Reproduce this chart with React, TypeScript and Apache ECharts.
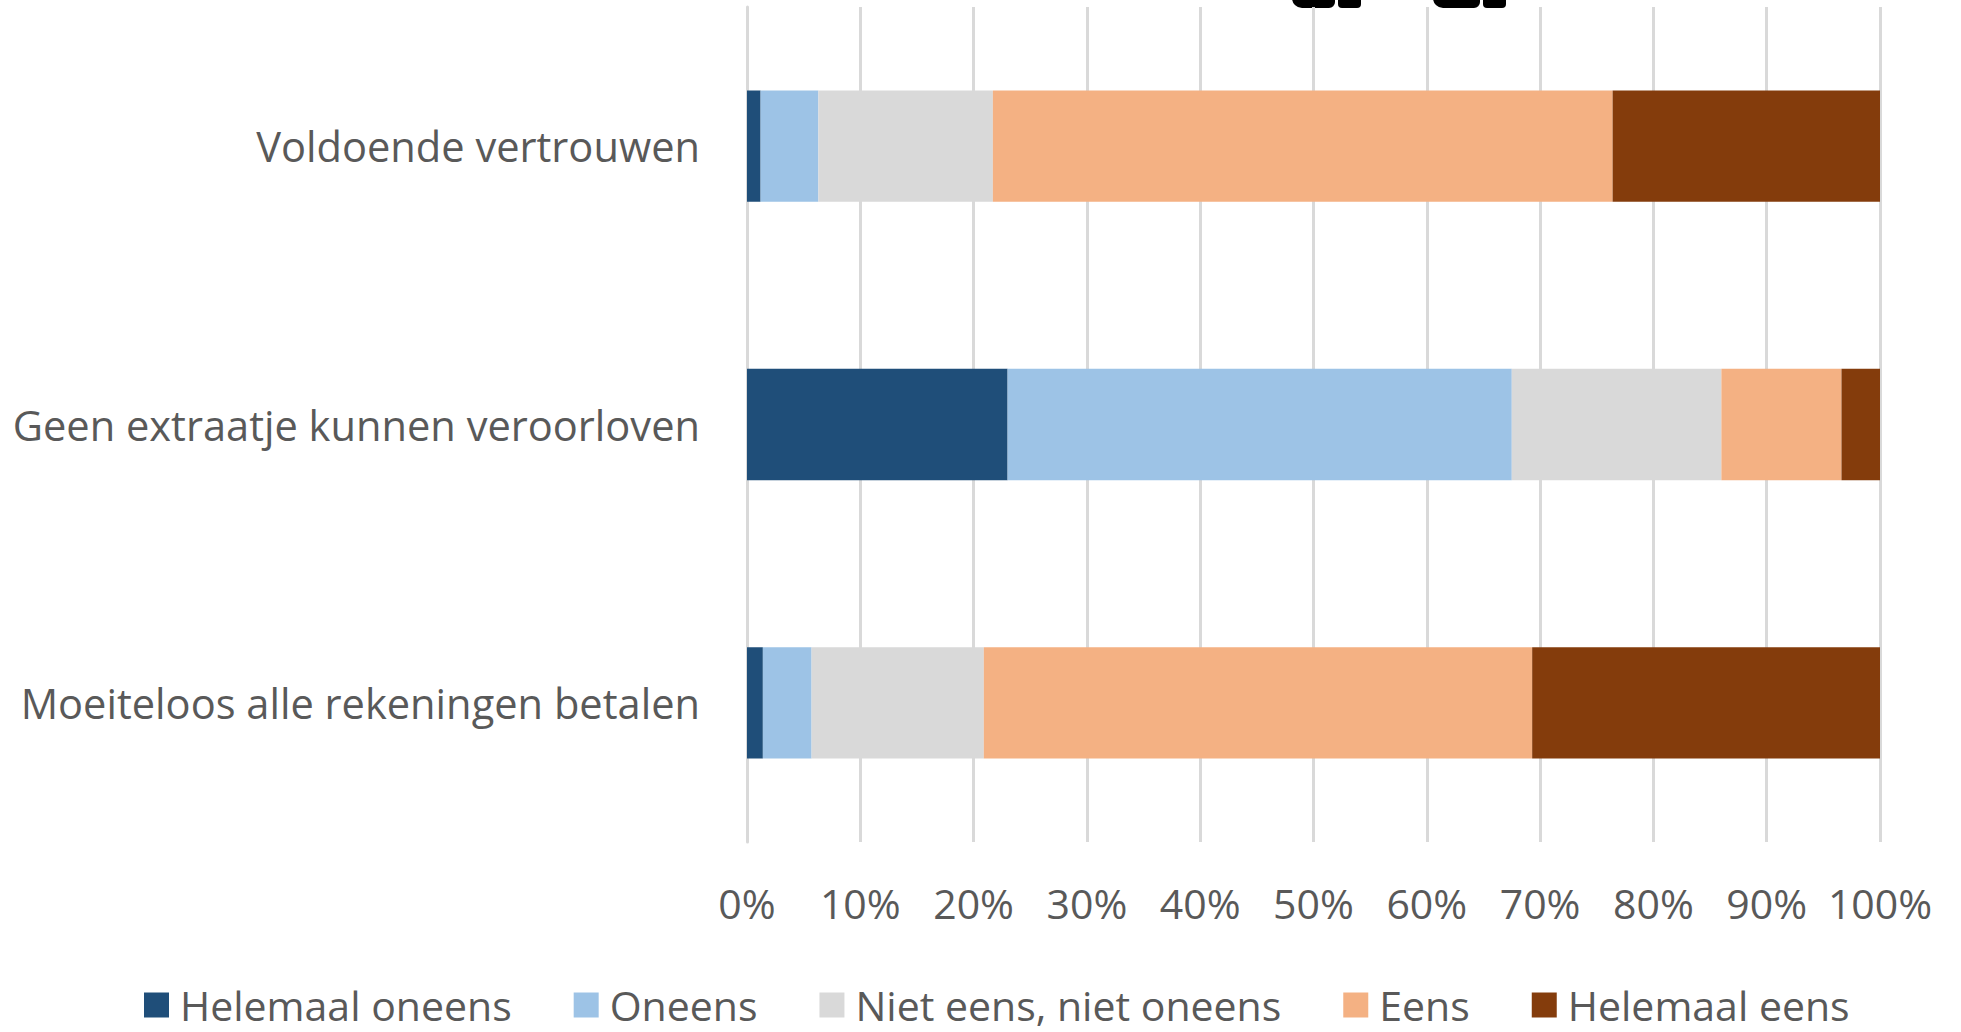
import React, { useEffect, useRef } from "react";
import * as echarts from "echarts";

const categories = [
  "Voldoende vertrouwen",
  "Geen extraatje kunnen veroorloven",
  "Moeiteloos alle rekeningen betalen",
];
const seriesNames = [
  "Helemaal oneens",
  "Oneens",
  "Niet eens, niet oneens",
  "Eens",
  "Helemaal eens",
];
const helemaalOneens = [1.2, 23.0, 1.4];
const oneens = [5.1, 44.5, 4.3];
const neutraal = [15.4, 18.5, 15.2];
const eens = [54.7, 10.6, 48.4];
const helemaalEens = [23.6, 3.4, 30.7];
const seriesValues = [helemaalOneens, oneens, neutraal, eens, helemaalEens];
const colors = ["#1F4E79", "#9DC3E6", "#D9D9D9", "#F4B183", "#843C0C"];
const tickLabels = ["0%", "10%", "20%", "30%", "40%", "50%", "60%", "70%", "80%", "90%", "100%"];

export default function App() {
  const ref = useRef<HTMLDivElement>(null);
  useEffect(() => {
    if (!ref.current) return;
    const chart = echarts.init(ref.current, undefined, { renderer: "svg" });
    const font = "'Open Sans', sans-serif";
    chart.setOption({
      animation: false,
      backgroundColor: "#ffffff",
      grid: { left: 747, right: 81, top: 7, bottom: 190, containLabel: false },
      legend: {
        data: seriesNames,
        left: 144,
        top: 983,
        padding: 0,
        itemWidth: 25,
        itemHeight: 25,
        itemGap: 62,
        icon: "rect",
        textStyle: {
          fontFamily: font,
          fontSize: 41,
          lineHeight: 44,
          color: "#595959",
          padding: [0, 0, 0, 6],
        },
      },
      xAxis: {
        type: "value",
        min: 0,
        max: 100,
        interval: 10,
        axisLine: { show: false },
        axisTick: { show: false },
        splitLine: { show: true, lineStyle: { color: "#D9D9D9", width: 3 } },
        axisLabel: {
          margin: 40,
          fontFamily: font,
          fontSize: 41,
          color: "#595959",
          formatter: (v: number) => tickLabels[Math.round(v / 10)],
        },
      },
      yAxis: {
        type: "category",
        data: categories,
        inverse: true,
        axisLine: { show: true, lineStyle: { color: "#D9D9D9", width: 3 } },
        axisTick: { show: false },
        axisLabel: { margin: 47, fontFamily: font, fontSize: 41.6, color: "#595959" },
      },
      series: seriesNames.map((name, i) => ({
        name,
        type: "bar",
        stack: "total",
        barWidth: "40%",
        data: seriesValues[i],
        itemStyle: { color: colors[i] },
      })),
      graphic: [
        { type: "rect", shape: { x: 1292, y: -10, width: 43, height: 18, r: [0, 0, 6, 10] }, style: { fill: "#000" } },
        { type: "rect", shape: { x: 1338, y: -10, width: 23, height: 18, r: [0, 0, 4, 4] }, style: { fill: "#000" } },
        { type: "rect", shape: { x: 1433, y: -10, width: 47, height: 18, r: [0, 0, 6, 10] }, style: { fill: "#000" } },
        { type: "rect", shape: { x: 1483, y: -10, width: 23, height: 18, r: [0, 0, 4, 4] }, style: { fill: "#000" } },
      ],
    });
    return () => chart.dispose();
  }, []);
  return (
    <div
      ref={ref}
      style={{ position: "fixed", left: 0, top: 0, width: 1961, height: 1032 }}
    />
  );
}
